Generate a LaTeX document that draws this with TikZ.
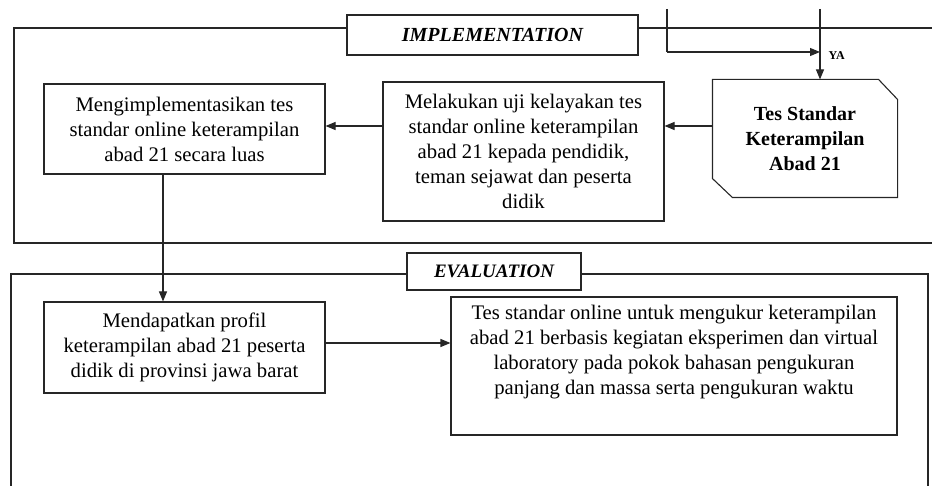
\documentclass[tikz,border=0pt]{standalone}
\usepackage{fontspec}
\setmainfont{Liberation Serif}
\usetikzlibrary{arrows.meta}
\tikzset{
  ln/.style={draw=black!85, line width=1.1pt},
  arr/.style={ln, -{Triangle[length=10pt,width=8pt]}},
  boxnode/.style={ln, rectangle, align=center, inner sep=0pt, font=\fontsize{20.7}{25}\selectfont},
  labelnode/.style={ln, rectangle, fill=white, inner sep=0pt, font=\bfseries\itshape\fontsize{20}{24}\selectfont},
}
\begin{document}
\begin{tikzpicture}[x=1pt,y=-1pt]
\useasboundingbox (0,0) rectangle (932,486);
% frames
\draw[ln] (932,28) -- (14,28) -- (14,243) -- (932,243);
\draw[ln] (11,486) -- (11,274) -- (928,274) -- (928,486);
% section labels
\node[labelnode, minimum width=291pt, minimum height=40pt] (impl) at (492.5,35) {IMPLEMENTATION};
\node[labelnode, minimum width=174pt, minimum height=37pt, font=\bfseries\itshape\fontsize{19}{23}\selectfont] (eval) at (494,271.5) {EVALUATION};
% boxes
\node[boxnode, minimum width=281pt, minimum height=90pt] (lb) at (184.5,129) {Mengimplementasikan tes\\standar online keterampilan\\abad 21 secara luas};
\node[boxnode, minimum width=281pt, minimum height=139pt] (mb) at (523.5,151.5) {Melakukan uji kelayakan tes\\standar online keterampilan\\abad 21 kepada pendidik,\\teman sejawat dan peserta\\didik};
\node[boxnode, draw=none, minimum width=184pt, minimum height=117pt, font=\bfseries\fontsize{20}{25}\selectfont] (tes) at (805,138.5) {Tes Standar\\Keterampilan\\Abad 21};
\draw[ln] (tes.north west) -- ([xshift=-19pt]tes.north east) -- ([yshift=-20pt]tes.north east) -- (tes.south east) -- ([xshift=20pt]tes.south west) -- ([yshift=19pt]tes.south west) -- cycle;
\node[boxnode, minimum width=281pt, minimum height=91pt] (el) at (184.5,347.5) {Mendapatkan profil\\keterampilan abad 21 peserta\\didik di provinsi jawa barat};
\node[boxnode, minimum width=446pt, minimum height=138pt] (er) at (674,366) {};
\node[boxnode, draw=none, anchor=north] (ertext) at ([yshift=-8pt]er.north) {Tes standar online untuk mengukur keterampilan\\abad 21 berbasis kegiatan eksperimen dan virtual\\laboratory pada pokok bahasan pengukuran\\panjang dan massa serta pengukuran waktu};
% top incoming lines
\coordinate (t1) at (667,9);
\coordinate (t1b) at (667,52);
\coordinate (t2) at (820,9);
\draw[ln] (t1) -- (t1b);
\draw[arr] (t1b) -- (t1b -| t2);
\draw[arr] (t2) -- (t2 |- tes.north);
\node[font=\bfseries\fontsize{12}{14}\selectfont, anchor=west] (ya) at (825,56) {YA};
% connectors
\draw[arr] ([yshift=12.5pt]tes.west) -- ([yshift=12.5pt]tes.west -| mb.east);
\draw[arr] ([yshift=25.5pt]mb.west) -- ([yshift=25.5pt]mb.west -| lb.east);
\draw[arr] ([xshift=-21.5pt]lb.south) -- ([xshift=-21.5pt]lb.south |- el.north);
\draw[arr] ([yshift=4.5pt]el.east) -- ([yshift=4.5pt]el.east -| er.west);
\end{tikzpicture}
\end{document}
